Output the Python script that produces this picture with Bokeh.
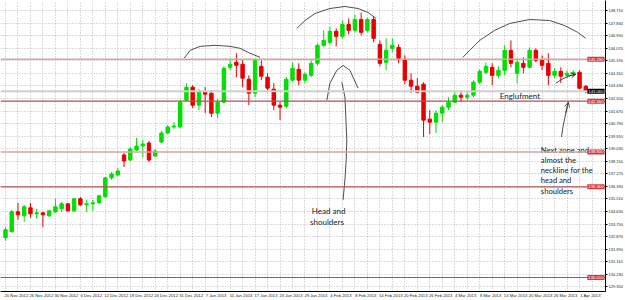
from bokeh.plotting import figure
from bokeh.models import Range1d, FixedTicker, NumeralTickFormatter, Label, Arrow, OpenHead, ColumnDataSource, Span
from bokeh.embed import file_html
from bokeh.resources import INLINE
from bokeh.core.properties import value

# ---- daily candles (GBP/JPY style) ----
opens = [132.80, 133.22, 134.61, 134.33, 134.89, 134.47, 134.54, 134.33, 134.61, 134.82,
         135.17, 134.68, 135.52, 135.10, 135.17, 135.24, 135.66, 136.99, 137.19, 138.59,
         138.24, 138.94, 139.22, 139.43, 138.52, 139.50, 140.13, 140.55, 140.55, 142.43,
         143.34, 142.08, 142.99, 142.92, 141.52, 142.29, 144.73, 145.08, 144.94, 143.90,
         142.92, 144.80, 144.04, 143.20, 142.08, 142.01, 143.83, 144.59, 143.83, 144.17,
         145.01, 146.27, 146.48, 147.25, 146.90, 147.73, 147.32, 148.08, 147.32, 148.08,
         146.34, 145.08, 146.06, 146.13, 145.29, 143.83, 143.41, 143.55, 141.10, 140.89,
         141.52, 141.94, 142.29, 142.78, 142.64, 142.78, 143.69, 144.38, 144.73, 144.17,
         144.52, 145.92, 144.31, 145.01, 144.73, 145.92, 145.22, 145.01, 144.17, 144.45,
         144.17, 144.31, 144.38, 143.41]
closes = [133.36, 134.61, 134.40, 134.96, 134.47, 134.54, 134.40, 134.68, 134.96, 135.17,
          134.68, 135.52, 135.10, 135.17, 135.24, 135.73, 136.99, 137.26, 137.47, 138.17,
          139.01, 139.22, 139.36, 138.24, 138.87, 140.13, 140.55, 140.62, 142.29, 143.34,
          142.08, 143.06, 142.85, 141.52, 142.29, 144.66, 144.94, 144.87, 143.97, 142.92,
          145.22, 144.11, 143.27, 142.08, 141.94, 143.90, 144.66, 143.83, 144.24, 145.01,
          146.27, 146.62, 147.25, 146.90, 147.73, 147.32, 148.08, 147.18, 148.08, 146.76,
          145.01, 145.92, 146.27, 145.36, 143.83, 143.41, 142.99, 141.03, 140.89, 141.52,
          141.94, 142.29, 142.78, 142.64, 142.78, 143.69, 144.45, 144.80, 144.17, 144.52,
          145.92, 145.01, 145.08, 144.73, 145.92, 145.22, 144.87, 144.17, 144.45, 144.11,
          144.31, 144.38, 143.27, 143.06]
highs = [133.56, 134.75, 135.24, 135.10, 135.24, 134.82, 134.61, 134.75, 135.52, 135.31,
         135.24, 135.59, 135.66, 135.45, 135.45, 135.80, 137.06, 137.40, 137.68, 138.73,
         139.15, 139.78, 139.64, 139.57, 139.01, 140.27, 140.69, 140.89, 142.43, 143.62,
         143.48, 143.20, 143.34, 143.13, 142.50, 144.80, 145.36, 145.71, 145.22, 144.17,
         145.36, 145.22, 144.31, 143.62, 142.29, 144.04, 145.08, 145.01, 144.38, 145.22,
         146.41, 147.32, 147.60, 147.46, 148.01, 148.15, 148.43, 148.57, 148.22, 148.29,
         146.62, 146.76, 146.76, 146.34, 145.57, 144.31, 143.97, 143.69, 141.73, 141.73,
         142.08, 142.64, 142.99, 142.99, 143.06, 143.83, 144.59, 145.08, 145.01, 144.80,
         146.27, 146.62, 145.36, 145.43, 146.13, 146.06, 145.57, 145.71, 144.66, 144.73,
         144.52, 144.52, 144.52, 143.48]
lows = [132.59, 133.15, 134.05, 133.91, 134.19, 134.12, 133.56, 134.26, 134.54, 134.61,
        134.61, 134.61, 135.03, 134.61, 134.68, 135.17, 135.59, 136.85, 137.12, 137.75,
        138.17, 138.87, 138.45, 138.10, 138.45, 139.43, 140.06, 140.41, 140.48, 142.36,
        141.87, 141.73, 141.52, 141.24, 141.17, 142.22, 144.52, 144.04, 143.34, 142.08,
        142.64, 143.83, 142.99, 141.73, 141.03, 141.87, 143.69, 143.48, 143.62, 144.04,
        144.87, 146.13, 146.34, 146.20, 146.76, 147.04, 147.18, 146.97, 147.18, 146.48,
        144.80, 144.52, 145.78, 145.01, 143.55, 142.92, 142.92, 139.85, 140.06, 140.13,
        140.89, 141.73, 142.22, 142.29, 142.43, 142.64, 143.55, 144.24, 143.48, 143.97,
        144.17, 144.73, 143.62, 144.31, 144.66, 145.08, 144.52, 143.48, 143.97, 143.62,
        143.97, 144.11, 143.20, 142.92]

# ---- axis labels ----
date_labels = ["20 Nov 2012", "26 Nov 2012", "30 Nov 2012", "6 Dec 2012", "12 Dec 2012",
               "18 Dec 2012", "24 Dec 2012", "31 Dec 2012", "7 Jan 2013", "11 Jan 2013",
               "17 Jan 2013", "23 Jan 2013", "29 Jan 2013", "4 Feb 2013", "8 Feb 2013",
               "14 Feb 2013", "20 Feb 2013", "26 Feb 2013", "4 Mar 2013", "8 Mar 2013",
               "14 Mar 2013", "20 Mar 2013", "26 Mar 2013", "1 Apr 2013"]
date_bars = [0, 4, 8, 12, 16, 20, 24, 28, 32, 36, 40, 44, 48, 52, 56, 60, 64, 68, 72, 76,
             80, 84, 88, 92]
price_ticks = [148.710, 147.830, 146.950, 146.070, 145.190, 144.310, 143.430, 142.550,
               141.670, 140.790, 139.910, 139.030, 138.150, 137.270, 136.390, 135.510,
               134.630, 133.750, 132.870, 131.990, 131.110, 130.230, 129.350]

# ---- horizontal zones ----
levels_light = [145.29, 138.80]
levels_dark = [142.36, 136.36, 130.01]

# ---- hand-drawn annotations (bar index, price) ----
shoulder_l_x = [28.6, 29.6, 31.2, 33.6, 36.0, 37.6, 39.2, 40.8]
shoulder_l_y = [145.36, 145.92, 146.20, 146.27, 146.20, 146.06, 145.71, 145.43]
head_arc_x = [46.7, 48.0, 49.6, 52.0, 54.4, 56.5, 58.1, 59.4]
head_arc_y = [147.46, 148.01, 148.50, 148.85, 148.99, 148.85, 148.57, 148.15]
shoulder_r_x = [73.3, 74.4, 76.0, 78.4, 80.8, 84.0, 87.2, 89.6, 91.7, 93.0]
shoulder_r_y = [145.43, 145.92, 146.62, 147.32, 147.80, 148.08, 148.01, 147.66, 147.18, 146.76]
head_loop_x = [51.5, 52.0, 53.1, 54.1, 55.2, 56.5]
head_loop_y = [142.43, 143.62, 144.52, 144.87, 144.52, 143.27]
head_line_x = [53.9, 54.4, 54.7, 54.6, 54.4, 54.1]
head_line_y = [143.69, 142.64, 139.64, 138.24, 136.85, 135.45]
engulf_arrow_x = [88.2, 89.2, 90.2, 91.4]
engulf_arrow_y = [143.62, 143.90, 144.11, 144.25]
zone_arrow_x = [89.1, 89.4, 89.8, 90.2]
zone_arrow_y = [139.85, 140.69, 141.52, 142.29]

head_text = ["Head and", "shoulders"]
head_text_x = [49.1, 48.8]
head_text_y = [134.68, 133.91]
engulf_text = ["Englufment"]
engulf_text_x = [79.2]
engulf_text_y = [142.71]
zone_text = ["Next zone and", "almost the", "neckline for the", "head and", "shoulders"]
zone_text_x = [85.8, 85.8, 85.8, 85.8, 85.8]
zone_text_y = [138.94, 138.24, 137.54, 136.85, 136.08]

GREEN = "#00e000"
RED = "#e80000"
X_END = 96.16

p = figure(width=625, height=300, x_range=Range1d(-0.8, X_END), y_range=Range1d(129.03, 149.41),
           output_backend="svg", toolbar_location=None, y_axis_location="right",
           min_border_left=0, min_border_top=0, min_border_right=19, min_border_bottom=8)
p.background_fill_color = "white"
p.border_fill_color = "white"
p.outline_line_color = None

# grid
p.xgrid.ticker = FixedTicker(ticks=list(range(0, 96, 2)))
p.ygrid.ticker = FixedTicker(ticks=price_ticks)
for g in (p.xgrid, p.ygrid):
    g.grid_line_color = "#b8b8b8"
    g.grid_line_dash = "1 2"
    g.grid_line_width = 1

# x axis: left-aligned date labels (shifted so the text starts at its bar)
shift = 1.75
xt = [b + shift for b in date_bars]
p.xaxis.ticker = FixedTicker(ticks=xt)
p.xaxis.major_label_overrides = {t: s for t, s in zip(xt, date_labels)}
p.xaxis.major_tick_out = 0
p.xaxis.major_tick_in = 0
p.xaxis.minor_tick_line_color = None
p.xaxis.major_label_standoff = 1
p.xaxis.major_label_text_font_size = "4.2px"
p.xaxis.major_label_text_font = "Liberation Sans"
p.xaxis.major_label_text_color = "#222222"
p.xaxis.axis_line_color = "#000000"

p.yaxis.ticker = FixedTicker(ticks=price_ticks)
p.yaxis.formatter = NumeralTickFormatter(format="0.000")
p.yaxis.major_tick_out = 2
p.yaxis.major_tick_in = 0
p.yaxis.minor_tick_line_color = None
p.yaxis.major_label_standoff = 1
p.yaxis.major_label_text_font_size = "4px"
p.yaxis.major_label_text_font = "Liberation Sans"
p.yaxis.major_label_text_color = "#222222"
p.yaxis.axis_line_color = "#000000"

# zone lines
for lv in levels_light:
    p.add_layout(Span(location=lv, dimension="width", line_color="#d9a3a3", line_width=1.5))
for lv in levels_dark:
    p.add_layout(Span(location=lv, dimension="width", line_color="#b25050", line_width=1.2))
# bid line
p.add_layout(Span(location=closes[-1], dimension="width", line_color="#cfcfcf", line_width=2))

# candles
idx = list(range(len(opens)))
colors = [GREEN if c >= o else RED for o, c in zip(opens, closes)]
src = ColumnDataSource(dict(x=idx, o=opens, c=closes, h=highs, l=lows,
                            top=[max(o, c) for o, c in zip(opens, closes)],
                            bot=[min(o, c) for o, c in zip(opens, closes)],
                            color=colors))
p.segment(x0="x", y0="l", x1="x", y1="h", color="color", line_width=1, source=src)
p.vbar(x="x", width=0.55, top="top", bottom="bot", fill_color="color", line_color="color",
       line_width=1, source=src)

# hand-drawn curves
ink = "#3a3a3a"
for xs, ys in [(shoulder_l_x, shoulder_l_y), (head_arc_x, head_arc_y), (shoulder_r_x, shoulder_r_y),
               (head_loop_x, head_loop_y), (head_line_x, head_line_y),
               (engulf_arrow_x, engulf_arrow_y), (zone_arrow_x, zone_arrow_y)]:
    p.line(xs, ys, line_color=ink, line_width=0.9)
for xs, ys in [(engulf_arrow_x, engulf_arrow_y), (zone_arrow_x, zone_arrow_y)]:
    p.add_layout(Arrow(end=OpenHead(size=5, line_color=ink, line_width=0.9), line_color=ink,
                       line_width=0.9, x_start=xs[-2], y_start=ys[-2], x_end=xs[-1], y_end=ys[-1]))

# texts
for txt, xs, ys, fs in [(head_text, head_text_x, head_text_y, "8px"),
                        (engulf_text, engulf_text_x, engulf_text_y, "8px"),
                        (zone_text, zone_text_x, zone_text_y, "7.6px")]:
    p.text(x=xs, y=ys, text=txt, text_font=value("Lato"), text_font_size=fs,
           text_color="#1a1a1a", text_baseline="middle", text_align="left")

# price tags at the right edge of the price area
tag_levels = levels_light + levels_dark + [closes[-1]]
tag_colors = ["#d43a3a"] * (len(levels_light) + len(levels_dark)) + ["#000000"]
for lv, col in zip(tag_levels, tag_colors):
    p.add_layout(Label(x=X_END, y=lv, text=f"{lv:.3f}", text_font_size="4.2px",
                       text_font="Liberation Sans", text_color="white",
                       background_fill_color=col, background_fill_alpha=1.0,
                       text_baseline="middle", text_align="right", x_offset=-1, padding=1))

open("out.html", "w").write(file_html(p, INLINE))
